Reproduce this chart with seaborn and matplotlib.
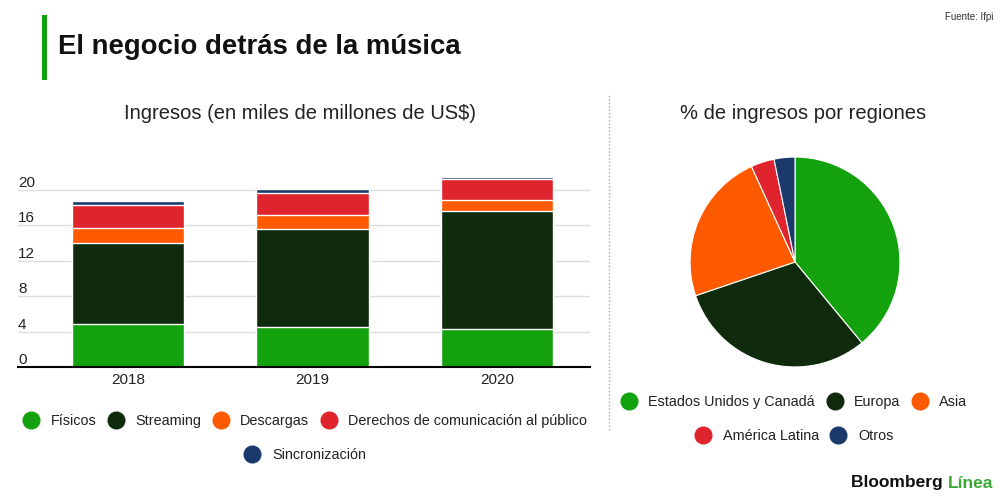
import numpy as np
import pandas as pd
import matplotlib
matplotlib.use("Agg")
import matplotlib.pyplot as plt
from matplotlib.lines import Line2D
from matplotlib.patches import Rectangle
import seaborn as sns

# ---- data ----
years = ["2018", "2019", "2020"]
segments = ["Físicos", "Streaming", "Descargas",
            "Derechos de comunicación al público", "Sincronización"]
fisicos = [4.86, 4.52, 4.26]
streaming = [9.08, 11.04, 13.37]
descargas = [1.69, 1.62, 1.24]
derechos = [2.64, 2.41, 2.30]
sincronizacion = [0.41, 0.52, 0.30]
yticks = [0, 4, 8, 12, 16, 20]

regions = ["Estados Unidos y Canadá", "Europa", "Asia", "América Latina", "Otros"]
region_share = [39.0, 30.8, 23.4, 3.6, 3.2]

seg_colors = ["#14a10e", "#0f2a0c", "#ff5a00", "#e0242d", "#1b3a6b"]

sns.set_theme(style="white")
plt.rcParams["font.family"] = ["Liberation Sans", "DejaVu Sans"]

fig = plt.figure(figsize=(10, 5), dpi=100)
fig.patch.set_facecolor("white")

# ---- stacked bars (cumulative overlay) ----
ax = fig.add_axes([0.018, 0.266, 0.572, 0.39])
series = np.array([fisicos, streaming, descargas, derechos, sincronizacion])
cum = np.cumsum(series, axis=0)
for i in range(len(segments) - 1, -1, -1):
    df = pd.DataFrame({"year": years, "value": cum[i]})
    sns.barplot(data=df, x="year", y="value", color=seg_colors[i],
                width=0.61, saturation=1, ax=ax, zorder=3)
ax.set_xlim(-0.596, 2.504)
ax.set_ylim(0, 22)
ax.set_yticks(yticks)
ax.set_yticklabels([str(t) for t in yticks])
ax.yaxis.grid(True, color="#dddddd", linewidth=1, zorder=0)
ax.xaxis.grid(False)
for s in ["top", "right", "left"]:
    ax.spines[s].set_visible(False)
ax.spines["bottom"].set_color("black")
ax.spines["bottom"].set_linewidth(1.5)
ax.spines["bottom"].set_zorder(5)
ax.set_xlabel("")
ax.set_ylabel("")
ax.tick_params(axis="y", length=0, pad=0, labelsize=11, colors="#222222")
for lab in ax.get_yticklabels():
    lab.set_horizontalalignment("left")
    lab.set_verticalalignment("bottom")
ax.tick_params(axis="x", length=0, pad=4, labelsize=11, colors="#222222")

# ---- pie ----
axp = fig.add_axes([0.689, 0.264, 0.212, 0.424])
axp.pie(region_share, colors=seg_colors, startangle=90, counterclock=False,
        wedgeprops=dict(edgecolor="white", linewidth=0.8))
axp.set_xlim(-1.01, 1.01)
axp.set_ylim(-1.01, 1.01)
axp.set_aspect("equal")

# ---- texts ----
fig.add_artist(Rectangle((0.042, 0.84), 0.005, 0.13, transform=fig.transFigure,
                         color="#14a10e", linewidth=0))
fig.text(0.058, 0.905, "El negocio detrás de la música", fontsize=19.8,
         fontweight="bold", va="center", ha="left", color="#111111")
fig.text(0.993, 0.966, "Fuente: Ifpi", fontsize=7, ha="right", va="center",
         color="#333333")
fig.text(0.300, 0.773, "Ingresos (en miles de millones de US$)", fontsize=14.5,
         ha="center", va="center", color="#222222")
fig.text(0.803, 0.773, "% de ingresos por regiones", fontsize=14.5,
         ha="center", va="center", color="#222222")

# divider
fig.add_artist(Line2D([0.609, 0.609], [0.14, 0.81], transform=fig.transFigure,
                      color="#aaaaaa", linestyle=(0, (1, 1.5)), linewidth=1))

def handles(labels, colors):
    return [Line2D([0], [0], marker="o", linestyle="", markersize=12,
                   markerfacecolor=c, markeredgecolor=c, label=l)
            for l, c in zip(labels, colors)]

leg_kw = dict(frameon=False, fontsize=10.4, handletextpad=0.35, columnspacing=0.35,
              borderpad=0, labelcolor="#222222")
fig.legend(handles=handles(segments[:4], seg_colors[:4]), ncol=4,
           loc="center", bbox_to_anchor=(0.302, 0.158), **leg_kw)
fig.legend(handles=handles(segments[4:], seg_colors[4:]), ncol=1,
           loc="center", bbox_to_anchor=(0.302, 0.09), **leg_kw)
fig.legend(handles=handles(regions[:3], seg_colors[:3]), ncol=3,
           loc="center", bbox_to_anchor=(0.791, 0.196), **leg_kw)
fig.legend(handles=handles(regions[3:], seg_colors[3:]), ncol=2,
           loc="center", bbox_to_anchor=(0.791, 0.128), **leg_kw)

fig.text(0.948, 0.034, "Bloomberg ", fontsize=12.5, fontweight="bold",
         ha="right", va="center", color="#111111")
fig.text(0.948, 0.034, "Línea", fontsize=12.5, fontweight="bold",
         ha="left", va="center", color="#3aaa35")

fig.savefig("out.png", dpi=100, facecolor="white")
